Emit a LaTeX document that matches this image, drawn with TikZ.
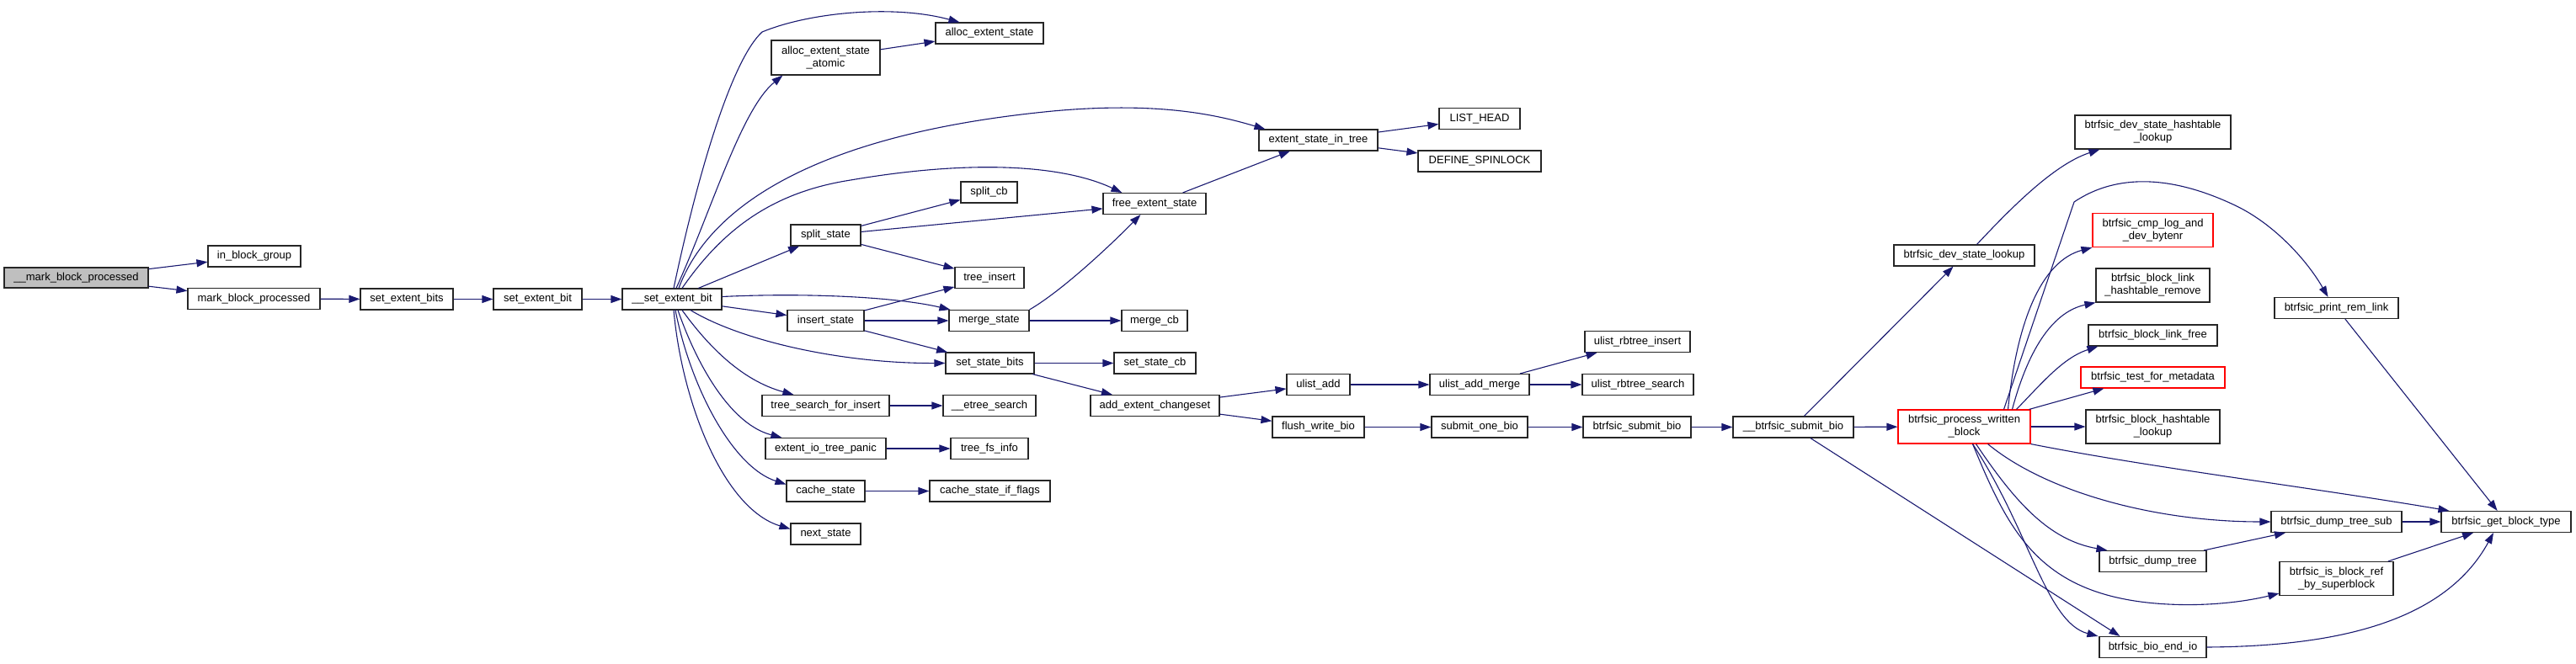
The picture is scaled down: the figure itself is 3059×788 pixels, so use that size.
\documentclass[tikz,border=0pt]{standalone}
\usepackage{fontspec}
\setmainfont{Liberation Sans}
\usetikzlibrary{arrows.meta,calc}
\definecolor{edgeblue}{RGB}{25,25,112}
\definecolor{rootgray}{RGB}{191,191,191}
\tikzset{
 box/.style={draw=black!85, line width=0.55pt, fill=white, inner sep=0pt, align=center,
   minimum height=12.5pt, font=\fontsize{6.5}{7.5}\selectfont},
 rootbox/.style={box, fill=rootgray},
 redbox/.style={box, draw=red},
 bw/.style={minimum width=#1*0.5pt},
 bh/.style={minimum height=#1*0.5pt},
 edge/.style={draw=edgeblue, line width=0.55pt, -{Triangle[length=6.5pt,width=4.5pt]}},
}
\begin{document}
\begin{tikzpicture}[x=0.5pt,y=-0.5pt]
\useasboundingbox (0,0) rectangle (3059,788);
% nodes
\node[rootbox,bw=171,bh=24] (root) at (90.5,330) {\_\_mark\_block\_processed};
\node[box,bw=110] (ibg) at (302,304.5) {in\_block\_group};
\node[box,bw=157] (mbp) at (301.5,355) {mark\_block\_processed};
\node[box,bw=110] (sebs) at (483,355.5) {set\_extent\_bits};
\node[box,bw=105] (seb1) at (638.5,355.5) {set\_extent\_bit};
\node[box,bw=118] (seb) at (798,355.5) {\_\_set\_extent\_bit};
\node[box,bw=128] (aes) at (1175,39.5) {alloc\_extent\_state};
\node[box,bw=129,bh=41] (aesa) at (980.5,68.5) {alloc\_extent\_state\\\_atomic};
\node[box,bw=141] (esit) at (1565.5,166.5) {extent\_state\_in\_tree};
\node[box,bw=96] (lh) at (1757,141) {LIST\_HEAD};
\node[box,bw=146] (dsp) at (1757,191.5) {DEFINE\_SPINLOCK};
\node[box,bw=122] (fes) at (1371,242) {free\_extent\_state};
\node[box,bw=67] (scb) at (1174.5,228.5) {split\_cb};
\node[box,bw=83] (ss) at (980.5,279.5) {split\_state};
\node[box,bw=82] (ti) at (1175,330) {tree\_insert};
\node[box,bw=91] (ins) at (980.5,381) {insert\_state};
\node[box,bw=95] (ms) at (1174.5,381) {merge\_state};
\node[box,bw=78] (mcb) at (1371,381) {merge\_cb};
\node[box,bw=105] (sst) at (1175.5,431.5) {set\_state\_bits};
\node[box,bw=97] (sscb) at (1371.5,431.5) {set\_state\_cb};
\node[box,bw=151] (tsfi) at (980.5,482) {tree\_search\_for\_insert};
\node[box,bw=110] (ets) at (1175,482) {\_\_etree\_search};
\node[box,bw=153] (aec) at (1371.5,482) {add\_extent\_changeset};
\node[box,bw=75] (ua) at (1565.5,457) {ulist\_add};
\node[box,bw=118] (uam) at (1757,457) {ulist\_add\_merge};
\node[box,bw=109] (fwb) at (1565.5,507.5) {flush\_write\_bio};
\node[box,bw=114] (sob) at (1757,507.5) {submit\_one\_bio};
\node[box,bw=143] (eitp) at (980.5,533) {extent\_io\_tree\_panic};
\node[box,bw=92] (tfi) at (1175,533) {tree\_fs\_info};
\node[box,bw=93] (cs) at (980.5,583.5) {cache\_state};
\node[box,bw=143] (csif) at (1175.5,583.5) {cache\_state\_if\_flags};
\node[box,bw=83] (ns) at (980.5,634.5) {next\_state};
\node[box,bw=125] (uri) at (1944.5,406) {ulist\_rbtree\_insert};
\node[box,bw=132] (urs) at (1945,457) {ulist\_rbtree\_search};
\node[box,bw=128] (bsub) at (1944,507.5) {btrfsic\_submit\_bio};
\node[box,bw=143] (bsb) at (2129.5,507.5) {\_\_btrfsic\_submit\_bio};
\node[box,bw=167] (dsl) at (2332.5,303.5) {btrfsic\_dev\_state\_lookup};
\node[redbox,bw=157,bh=40] (pwb) at (2332.5,507) {btrfsic\_process\_written\\\_block};
\node[box,bw=185,bh=40] (dshl) at (2556.5,157) {btrfsic\_dev\_state\_hashtable\\\_lookup};
\node[redbox,bw=143,bh=40] (cmpl) at (2556.5,273.5) {btrfsic\_cmp\_log\_and\\\_dev\_bytenr};
\node[box,bw=135,bh=40] (blhr) at (2556.5,339) {btrfsic\_block\_link\\\_hashtable\_remove};
\node[box,bw=153] (blf) at (2556.5,398.5) {btrfsic\_block\_link\_free};
\node[redbox,bw=171] (tfm) at (2556.5,448.5) {btrfsic\_test\_for\_metadata};
\node[box,bw=159,bh=40] (bhl) at (2556.5,507) {btrfsic\_block\_hashtable\\\_lookup};
\node[box,bw=147] (prl) at (2774.5,366) {btrfsic\_print\_rem\_link};
\node[box,bw=154] (gbt) at (2976,620) {btrfsic\_get\_block\_type};
\node[box,bw=155] (dts) at (2774.5,620) {btrfsic\_dump\_tree\_sub};
\node[box,bw=127] (dt) at (2556.5,667) {btrfsic\_dump\_tree};
\node[box,bw=135,bh=40] (ibr) at (2774.5,687.5) {btrfsic\_is\_block\_ref\\\_by\_superblock};
\node[box,bw=127] (beio) at (2556.5,769) {btrfsic\_bio\_end\_io};
\coordinate (kink) at (2463,240);
% edges: left chain
\draw[edge] (root) -- (ibg);
\draw[edge] (root) -- (mbp);
\draw[edge] (mbp) -- (sebs);
\draw[edge] (sebs) -- (seb1);
\draw[edge] (seb1) -- (seb);
% edges from __set_extent_bit
\draw[edge] ($(seb.north)+(2,0)$) .. controls (830,200) and (870,70) .. (905,38) .. controls (960,15) and (1060,5) .. ($(aes.north west)+(29,0)$);
\draw[edge] ($(seb.north)+(5,0)$) .. controls (845,250) and (880,130) .. ($(aesa.south west)+(14,0)$);
\draw[edge] ($(seb.north)+(8,0)$) .. controls (840,250) and (960,160) .. (1250,132) .. controls (1380,120) and (1450,138) .. ($(esit.north west)+(8,0)$);
\draw[edge] ($(seb.north)+(12,0)$) .. controls (860,270) and (920,228) .. (1010,214) .. controls (1150,190) and (1260,195) .. ($(fes.north west)+(23,0)$);
\draw[edge] (seb) -- (ss);
\draw[edge] (seb) -- (ins);
\draw[edge] ($(seb.east)+(0,-3)$) .. controls (950,348) and (1060,352) .. ($(ms.north west)+(2,0)$);
\draw[edge] ($(seb.south)+(22,0)$) .. controls (880,405) and (1000,432) .. (sst.west);
\draw[edge] ($(seb.south)+(12,0)$) .. controls (840,410) and (880,452) .. ($(tsfi.north west)+(38,0)$);
\draw[edge] ($(seb.south)+(7,0)$) .. controls (830,440) and (870,505) .. ($(eitp.north west)+(20,0)$);
\draw[edge] ($(seb.south)+(4,0)$) .. controls (820,460) and (870,555) .. ($(cs.west)+(0,-8)$);
\draw[edge] ($(seb.south)+(2,0)$) .. controls (810,480) and (860,605) .. ($(ns.west)+(0,-6)$);
% middle stage
\draw[edge] (aesa) -- (aes);
\draw[edge] (ss) -- (scb);
\draw[edge] (ss) -- (fes);
\draw[edge] (ss) -- (ti);
\draw[edge] (ins) -- (ti);
\draw[edge] (ins) -- (ms);
\draw[edge] (ins) -- (sst);
\draw[edge] (ms.north east) .. controls (1262,345) and (1320,290) .. ($(fes.south west)+(45,0)$);
\draw[edge] (ms) -- (mcb);
\draw[edge] (fes) -- (esit);
\draw[edge] (esit) -- (lh);
\draw[edge] (esit) -- (dsp);
\draw[edge] (sst) -- (sscb);
\draw[edge] (sst) -- (aec);
\draw[edge] (tsfi) -- (ets);
\draw[edge] (eitp) -- (tfi);
\draw[edge] (cs) -- (csif);
\draw[edge] (aec) -- (ua);
\draw[edge] (aec) -- (fwb);
\draw[edge] (ua) -- (uam);
\draw[edge] (uam) -- (uri);
\draw[edge] (uam) -- (urs);
\draw[edge] (fwb) -- (sob);
\draw[edge] (sob) -- (bsub);
\draw[edge] (bsub) -- (bsb);
\draw[edge] (bsb) -- (dsl);
\draw[edge] (bsb) -- (pwb);
\draw[edge] (bsb) -- ($(beio.north west)+(25,0)$);
\draw[edge] ($(dsl.north)+(15,0)$) .. controls (2390,245) and (2440,195) .. ($(dshl.south west)+(30,0)$);
% from btrfsic_process_written_block
\draw[edge] ($(pwb.north)+(47,0)$) -- (kink) .. controls (2500,215) and (2560,200) .. (2652,243) .. controls (2700,265) and (2740,310) .. ($(prl.north)+(-10,0)$);
\draw[edge] ($(pwb.north)+(52,0)$) .. controls (2395,380) and (2425,310) .. (cmpl.south west);
\draw[edge] ($(pwb.north)+(57,0)$) .. controls (2410,410) and (2440,370) .. (blhr.south west);
\draw[edge] ($(pwb.north)+(62,0)$) .. controls (2425,455) and (2450,425) .. ($(blf.south west)+(12,0)$);
\draw[edge] ($(pwb.north east)+(-2,0)$) -- ($(tfm.south west)+(28,0)$);
\draw[edge] (pwb) -- (bhl);
\draw[edge] (pwb.south east) .. controls (2550,555) and (2750,580) .. ($(gbt.north west)+(10,0)$);
\draw[edge] ($(pwb.south)+(28,0)$) .. controls (2430,585) and (2560,620) .. (dts.west);
\draw[edge] ($(pwb.south)+(14,0)$) .. controls (2395,600) and (2435,642) .. ($(dt.north west)+(10,0)$);
\draw[edge] ($(pwb.south)+(10,0)$) .. controls (2385,630) and (2420,705) .. (2560,717) .. controls (2620,722) and (2670,714) .. ($(ibr.south west)+(0,-3)$);
\draw[edge] ($(pwb.south)+(10,0)$) .. controls (2410,630) and (2430,740) .. ($(beio.north west)+(-1,0)$);
% right end
\draw[edge] (prl) -- (gbt);
\draw[edge] (dts) -- (gbt);
\draw[edge] (dt) -- (dts);
\draw[edge] (ibr) -- (gbt);
\draw[edge] (beio.east) .. controls (2760,768) and (2900,745) .. ($(gbt.south)+(-15,0)$);
\end{tikzpicture}
\end{document}
